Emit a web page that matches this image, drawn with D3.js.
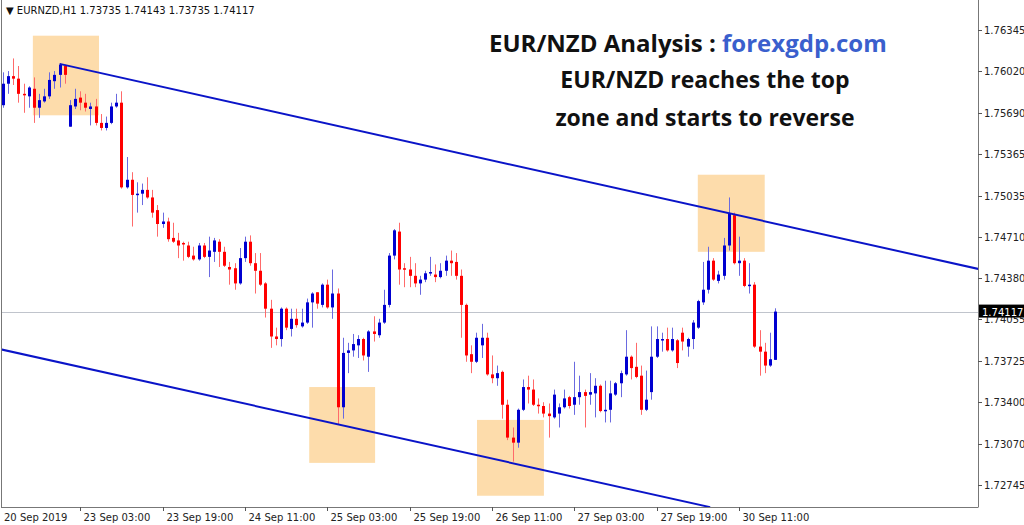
<!DOCTYPE html>
<html><head><meta charset="utf-8">
<script src="https://cdn.jsdelivr.net/npm/d3@7/dist/d3.min.js"></script>
<style>body{margin:0;background:#fff}svg{display:block}</style>
</head><body><svg id="c" width="1024" height="525"></svg>
<script>
// OHLC in pips (price * 1e4)
const opens=[17575,17592,17598,17596,17584,17582,17588,17573,17578,17582,17594,17599,17606,17558,17574,17581,17577,17572,17574,17561,17557,17561,17574,17577,17510,17516,17504,17505,17508,17502,17492,17481,17483,17470,17468,17466,17464,17456,17453,17464,17455,17459,17467,17459,17447,17446,17434,17454,17467,17450,17444,17434,17414,17392,17390,17414,17398,17406,17400,17403,17419,17427,17417,17433,17415,17426,17336,17379,17381,17385,17390,17376,17396,17393,17403,17417,17456,17475,17446,17445,17440,17434,17437,17442,17441,17439,17444,17452,17451,17440,17417,17378,17372,17385,17391,17362,17359,17364,17338,17312,17308,17334,17352,17350,17338,17337,17331,17328,17331,17336,17344,17338,17344,17348,17346,17347,17353,17333,17334,17346,17355,17362,17376,17368,17361,17334,17348,17376,17389,17390,17381,17389,17395,17384,17390,17399,17419,17429,17452,17436,17440,17464,17488,17450,17452,17432,17433,17384,17380,17369,17373.5];
const closes=[17592,17598,17596,17584,17583,17589,17573,17579,17582,17595,17599,17607,17599,17575,17580,17577,17573,17574,17561,17557,17561,17574,17577,17510,17516,17504,17505,17508,17502,17490,17481,17483,17469,17467,17464,17465,17455,17453,17464,17455,17460,17468,17459,17448,17445,17434,17454,17467,17450,17444,17433,17414,17392,17390,17414,17399,17406,17401,17403,17419,17426,17418,17433,17415,17426,17336,17379,17381,17386,17390,17377,17396,17394,17403,17417,17456,17476,17445,17445,17440,17434,17437,17442,17443,17439,17444,17452,17450,17440,17417,17377,17372,17391,17391,17362,17359,17363,17338,17312,17308,17334,17352,17350,17338,17337,17331,17329,17346,17336,17343,17337,17344,17348,17345,17348,17353,17333,17334,17347,17355,17363,17376,17367,17360,17334,17342,17376,17390,17390,17381,17390,17371,17388,17390,17403,17420,17429,17452,17437,17441,17464,17489,17450,17452,17432,17433,17384,17380,17369,17374,17411.7];
const highs=[17601,17602,17612,17606,17592,17590,17597,17584,17588,17601,17602,17608,17607,17579,17588,17586,17584,17577,17580,17568,17566,17577,17584,17586,17534,17522,17514,17513,17518,17508,17496,17490,17486,17482,17474,17467,17467,17463,17466,17466,17471,17470,17469,17463,17451,17450,17462,17471,17472,17458,17458,17435,17421,17399,17415,17415,17414,17414,17414,17422,17427,17427,17434,17437,17445,17430,17391,17387,17394,17393,17391,17397,17408,17406,17429,17458,17477,17482,17450,17455,17450,17440,17444,17455,17449,17450,17456,17460,17458,17445,17418,17385,17395,17402,17395,17377,17369,17365,17342,17320,17335,17358,17361,17358,17343,17340,17339,17350,17339,17350,17345,17372,17361,17350,17363,17359,17354,17357,17357,17356,17365,17397,17377,17387,17369,17365,17400,17400,17395,17399,17399,17390,17399,17391,17405,17421,17451,17463,17454,17444,17470,17502,17490,17471,17454,17450,17435,17397,17387,17395,17414.3];
const lows=[17573,17584,17591,17577,17569,17573,17561,17565,17577,17580,17588,17589,17592,17558,17572,17571,17570,17559,17559,17555,17555,17560,17573,17509,17509,17479,17490,17496,17501,17486,17471,17478,17467,17466,17454,17452,17454,17452,17452,17454,17439,17451,17447,17447,17433,17429,17433,17451,17448,17426,17432,17407,17383,17385,17384,17397,17392,17399,17399,17402,17399,17414,17415,17414,17406,17322,17327,17363,17376,17375,17373,17364,17388,17391,17402,17415,17453,17433,17431,17431,17431,17425,17435,17440,17435,17438,17440,17440,17437,17391,17372,17363,17371,17375,17361,17355,17353,17327,17310,17293,17304,17333,17339,17337,17331,17328,17312,17327,17320,17335,17335,17330,17338,17320,17338,17328,17332,17324,17324,17345,17344,17361,17358,17359,17330,17333,17342,17375,17380,17380,17380,17367,17381,17376,17382,17398,17417,17426,17436,17434,17437,17460,17449,17440,17431,17426,17383,17361,17363,17368,17373.5];
const priceTicks=[1.76345,1.76020,1.75690,1.75365,1.75035,1.74710,1.74380,1.74055,1.73725,1.73400,1.73070,1.72745];
const timeLabels=["20 Sep 2019","23 Sep 03:00","23 Sep 19:00","24 Sep 11:00","25 Sep 03:00","25 Sep 19:00","26 Sep 11:00","27 Sep 03:00","27 Sep 19:00","30 Sep 11:00"];
const timeIdx=[0,15,31,47,63,79,95,111,127,143];
const channelUpper=[[11,1.76077],[190,1.74450]];
const channelLower=[[-0.6,1.73820],[137.4,1.72570]];
const zones=[[5.8,18.65,1.76300,1.75670],[59.5,72.3,1.73520,1.72920],[92.1,105.1,1.73260,1.72660],[135.0,148.0,1.75200,1.74590]];
const lastPrice=1.74117;

const svg=d3.select("#c");
const plotR=978, plotB=507;
const x=d3.scaleLinear().domain([0,150]).range([3,775]);
const y=d3.scaleLinear().domain([1.76345,1.72745]).range([30,485]);
const n=Math.min(opens.length,closes.length,highs.length,lows.length);
const data=d3.range(n).map(i=>({i,o:opens[i]/1e4,c:closes[i]/1e4,h:highs[i]/1e4,l:lows[i]/1e4}));

svg.append("defs").append("clipPath").attr("id","pc").append("rect").attr("x",1).attr("y",0).attr("width",plotR-1).attr("height",plotB);
const g=svg.append("g").attr("clip-path","url(#pc)");
g.selectAll("rect.z").data(zones).join("rect")
 .attr("x",d=>x(d[0])).attr("width",d=>x(d[1])-x(d[0]))
 .attr("y",d=>y(d[2])).attr("height",d=>y(d[3])-y(d[2]))
 .attr("fill","#fddcab");
g.append("line").attr("x1",0).attr("x2",plotR).attr("y1",Math.round(y(lastPrice))+0.5).attr("y2",Math.round(y(lastPrice))+0.5).attr("stroke","#c0c4cc").attr("stroke-width",1);
const col=d=>d.c>=d.o?"#0000d0":"#ff0000";
const wcol=d=>d.c>=d.o?"#6a6ae0":"#ff6a6a";
g.selectAll("line.w").data(data).join("line")
 .attr("x1",d=>Math.round(x(d.i))+0.5).attr("x2",d=>Math.round(x(d.i))+0.5)
 .attr("y1",d=>y(d.h)).attr("y2",d=>y(d.l)).attr("stroke",wcol).attr("stroke-width",1);
g.selectAll("rect.b").data(data).join("rect")
 .attr("x",d=>Math.round(x(d.i))-1).attr("width",3)
 .attr("y",d=>y(Math.max(d.o,d.c))).attr("height",d=>Math.max(1.5,Math.abs(y(d.o)-y(d.c))))
 .attr("fill",col);
const line=d3.line().x(d=>x(d[0])).y(d=>y(d[1]));
[channelUpper,channelLower].forEach(c=>g.append("path").attr("d",line(c)).attr("stroke","#0a14c8").attr("stroke-width",2).attr("fill","none"));
svg.append("line").attr("x1",1.5).attr("x2",1.5).attr("y1",0).attr("y2",plotB).attr("stroke","#777");
svg.append("line").attr("x1",plotR+0.5).attr("x2",plotR+0.5).attr("y1",0).attr("y2",plotB+0.5).attr("stroke","#777");
svg.append("line").attr("x1",1).attr("x2",plotR).attr("y1",plotB+0.5).attr("y2",plotB+0.5).attr("stroke","#777");
const ya=svg.append("g").attr("font-family","DejaVu Sans, sans-serif").attr("font-size",10).attr("fill","#222");
priceTicks.forEach(p=>{
 ya.append("line").attr("x1",plotR).attr("x2",plotR+4).attr("y1",Math.round(y(p))+0.5).attr("y2",Math.round(y(p))+0.5).attr("stroke","#555");
 ya.append("text").attr("x",plotR+6).attr("y",y(p)+4).text(p.toFixed(5));
});
ya.append("rect").attr("x",plotR+1).attr("y",y(lastPrice)-7).attr("width",45).attr("height",13).attr("fill","#000");
ya.append("text").attr("x",plotR+4).attr("y",y(lastPrice)+4).attr("fill","#fff").text(lastPrice.toFixed(5));
const xa=svg.append("g").attr("font-family","DejaVu Sans, sans-serif").attr("font-size",10).attr("fill","#222");
timeLabels.forEach((t,k)=>{
 const xx=Math.round(x(timeIdx[k]))+0.5;
 if(k>0) xa.append("line").attr("x1",xx).attr("x2",xx).attr("y1",plotB).attr("y2",plotB+4).attr("stroke","#555");
 xa.append("text").attr("x",k===0?4:xx+3).attr("y",plotB+14).text(t);
});
svg.append("text").attr("x",6).attr("y",14).attr("font-family","DejaVu Sans, sans-serif").attr("font-size",10).attr("fill","#111").text("▼ EURNZD,H1  1.73735 1.74143 1.73735 1.74117");
const tf="'Open Sans', sans-serif";
const t1=svg.append("text").attr("x",489).attr("y",52).attr("font-family",tf).attr("font-weight","bold").attr("font-size",24);
t1.append("tspan").attr("fill","#111").text("EUR/NZD Analysis : ");
t1.append("tspan").attr("fill","#3a5fcd").text("forexgdp.com");
["EUR/NZD reaches the top","zone and starts to reverse"].forEach((s,k)=>
 svg.append("text").attr("x",705).attr("y",88+k*38).attr("text-anchor","middle").attr("font-family",tf).attr("font-weight","bold").attr("font-size",23).attr("fill","#111").text(s));
</script></body></html>
